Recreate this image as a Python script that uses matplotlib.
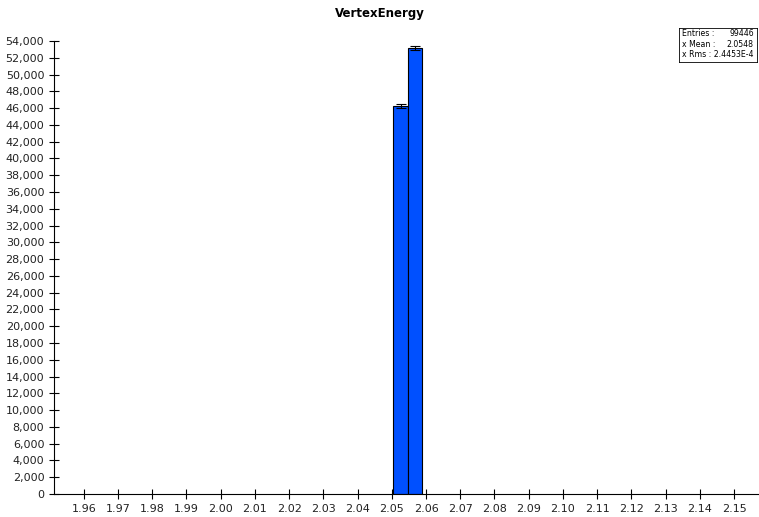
import matplotlib
matplotlib.use('Agg')
import matplotlib.pyplot as plt
import numpy as np

plt.rcParams['font.family'] = 'DejaVu Sans'

# histogram data (bin edges and counts)
bin_edges = [2.0504, 2.0548, 2.0589]
counts = [46250, 53196]
errors = np.sqrt(counts)

x_ticks = [round(1.96 + 0.01 * i, 2) for i in range(20)]
y_ticks = list(range(0, 54001, 2000))

stats_labels = ['Entries :', 'x Mean :', 'x Rms :']
stats_values = ['99446', '2.0548', '2.4453E-4']

fig = plt.figure(figsize=(7.59, 5.17), dpi=100)
ax = fig.add_axes([54 / 759, 23 / 517, 704 / 759, 453 / 517])

lefts = np.array(bin_edges[:-1])
widths = np.diff(bin_edges)
centers = lefts + widths / 2
ax.bar(lefts, counts, width=widths, align='edge', color='#0050ff',
       edgecolor='black', linewidth=0.8)
ax.errorbar(centers, counts, yerr=errors, fmt='none', ecolor='black',
            elinewidth=0.8, capsize=3.5, capthick=0.8)

ax.set_xlim(1.9513, 2.1570)
ax.set_ylim(0, 54000)
ax.set_xticks(x_ticks)
ax.set_xticklabels(['%.2f' % t for t in x_ticks])
ax.set_yticks(y_ticks)
ax.set_yticklabels(['{:,}'.format(t) for t in y_ticks])
ax.tick_params(direction='inout', length=7, width=0.8, labelsize=8,
               labelcolor='#222222')

for s in ['top', 'right']:
    ax.spines[s].set_visible(False)

fig.text(0.5, 1 - 13 / 517, 'VertexEnergy', ha='center', va='center',
         fontsize=8.5, fontweight='bold')

# stats box
box = fig.add_axes([679 / 759, 1 - 62 / 517, 78 / 759, 34 / 517])
box.set_xticks([])
box.set_yticks([])
for s in box.spines.values():
    s.set_linewidth(0.6)
for i, (lab, val) in enumerate(zip(stats_labels, stats_values)):
    yy = 0.83 - i * 0.31
    if i == len(stats_labels) - 1:
        box.text(0.04, yy, lab + ' ' + val, fontsize=5.6, va='center', ha='left')
    else:
        box.text(0.04, yy, lab, fontsize=5.6, va='center', ha='left')
        box.text(0.96, yy, val, fontsize=5.6, va='center', ha='right')

fig.savefig('out.png', dpi=100)
